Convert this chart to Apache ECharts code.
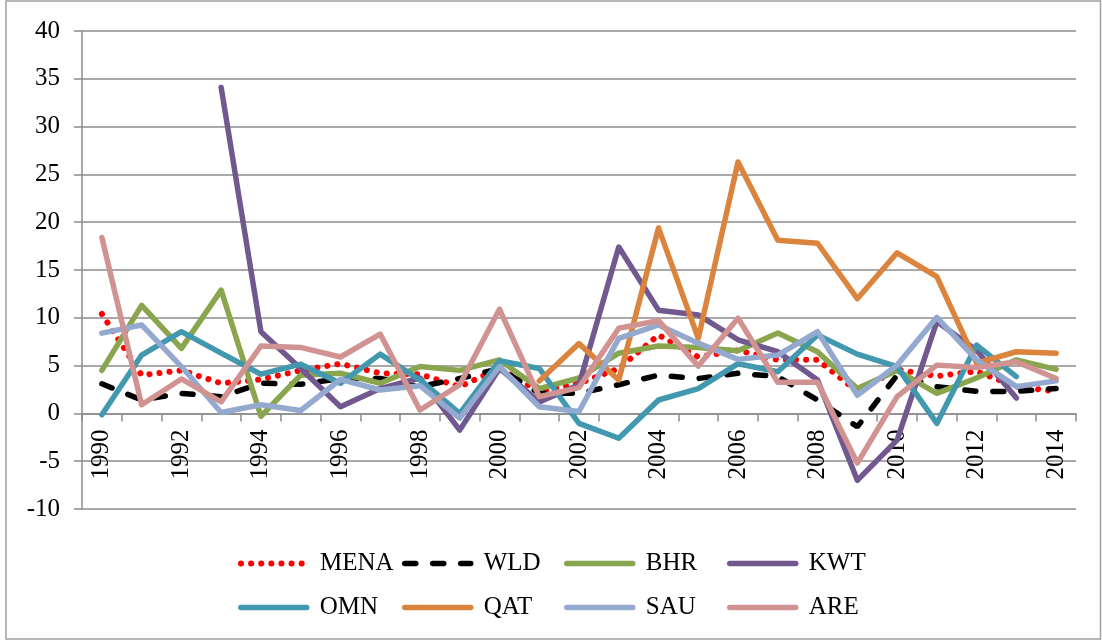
<!DOCTYPE html>
<html>
<head>
<meta charset="utf-8">
<script src="https://cdn.jsdelivr.net/npm/echarts@6/dist/echarts.min.js"></script>
<style>
  html, body { margin: 0; padding: 0; background: #fff; }
  #chart { width: 1102px; height: 642px; }
</style>
</head>
<body>
<div id="chart"></div>
<script>
// categories
const years = ['1990', '1991', '1992', '1993', '1994', '1995', '1996', '1997', '1998', '1999',
  '2000', '2001', '2002', '2003', '2004', '2005', '2006', '2007', '2008', '2009',
  '2010', '2011', '2012', '2013', '2014']

// series values
const mena = [10.4, 4.0, 4.5, 3.15, 3.55, 4.5, 5.2, 4.2, 4.1, 2.8, 4.7, 2.3, 3.15, 4.7, 8.2, 5.9, 6.6, 5.6, 5.6, 2.3, 4.6, 3.9, 4.4, 2.8, 2.3]
const wld = [3.1, 1.4, 2.1, 1.75, 3.15, 3.05, 3.65, 3.65, 2.8, 3.65, 4.7, 2.1, 2.1, 3.0, 4.0, 3.65, 4.2, 3.85, 1.4, -1.4, 4.0, 2.8, 2.3, 2.3, 2.6]
const bhr = [4.5, 11.3, 6.8, 12.9, -0.3, 4.0, 4.2, 3.15, 4.9, 4.5, 5.6, 2.6, 3.7, 6.3, 7.05, 6.9, 6.55, 8.4, 6.45, 2.6, 4.5, 2.1, 3.7, 5.6, 4.6]
const kwt = [null, null, null, 34.1, 8.55, 4.7, 0.7, 2.6, 3.7, -1.75, 4.7, 1.2, 3.0, 17.4, 10.8, 10.3, 7.7, 6.45, 3.5, -7.0, -2.8, 9.6, 6.6, 1.6, null]
const omn = [-0.15, 6.1, 8.55, 6.3, 4.1, 5.15, 3.15, 6.2, 3.5, 0.0, 5.5, 4.7, -1.05, -2.6, 1.4, 2.6, 5.2, 4.35, 8.2, 6.2, 4.9, -1.05, 7.15, 3.85, null]
const qat = [null, null, null, null, null, null, null, null, null, null, null, 3.4, 7.3, 3.5, 19.4, 7.85, 26.3, 18.1, 17.8, 12.0, 16.8, 14.3, 5.25, 6.45, 6.3]
const sau = [8.4, 9.25, 4.9, 0.1, 0.9, 0.3, 3.55, 2.45, 2.9, -0.5, 4.9, 0.7, 0.2, 7.85, 9.25, 7.35, 5.65, 6.1, 8.55, 1.9, 5.05, 10.05, 5.6, 2.8, 3.4]
const are = [18.4, 0.9, 3.6, 1.2, 7.05, 6.9, 5.9, 8.3, 0.35, 3.0, 10.9, 1.75, 2.7, 8.9, 9.7, 4.95, 9.95, 3.25, 3.25, -5.2, 1.75, 5.05, 4.8, 5.4, 3.65]

const names = ['MENA', 'WLD', 'BHR', 'KWT', 'OMN', 'QAT', 'SAU', 'ARE']
const values = [mena, wld, bhr, kwt, omn, qat, sau, are]
const colors = ['#ff0000', '#000000', '#89a54e', '#71588f', '#4198af', '#db843d', '#93a9cf', '#d19392']

const font = "'Liberation Serif', 'Times New Roman', serif"
const gray = '#8c8c8c'

const myChart = echarts.init(document.getElementById('chart'))

const series = names.map((name, i) => {
  let lineStyle = { color: colors[i], width: 5.5, cap: 'round', join: 'round' }
  if (name === 'MENA') {
    lineStyle = { color: colors[i], width: 6, type: [0.1, 10], cap: 'round' }
  } else if (name === 'WLD') {
    lineStyle = { color: colors[i], width: 5.5, type: [11, 17], cap: 'round' }
  }
  return {
    name: name,
    type: 'line',
    data: values[i],
    showSymbol: false,
    symbol: 'none',
    connectNulls: false,
    lineStyle: lineStyle,
    itemStyle: { color: colors[i] },
    emphasis: { disabled: true },
  }
})

// one legend per item so they sit on a fixed 4x2 grid
const legendLeft = [238, 402, 564, 727]
const legendTop = [551, 595]
const legends = names.map((name, i) => ({
  data: [name],
  left: legendLeft[i % 4],
  top: legendTop[Math.floor(i / 4)],
  padding: 0,
  itemWidth: 66,
  itemHeight: 14,
  itemStyle: { opacity: 0 },
  lineStyle: { width: name === 'MENA' ? 6 : 5.5 },
  textStyle: {
    fontFamily: font,
    fontSize: 25,
    color: '#000',
    padding: [0, 0, 0, 8],
  },
}))

const option = {
  animation: false,
  color: colors,
  textStyle: { fontFamily: font },
  graphic: [
    {
      type: 'rect',
      shape: { x: 6, y: 1, width: 1094.5, height: 638 },
      style: { fill: 'none', stroke: '#a0a0a0', lineWidth: 1.5 },
      silent: true,
    },
  ],
  grid: {
    left: 82,
    right: 26,
    top: 31,
    bottom: 133,
  },
  legend: legends,
  xAxis: {
    type: 'category',
    data: years,
    boundaryGap: true,
    // sits at y = 0: grid height 478 for 50 units, zero is 10 units above the bottom
    offset: -95.6,
    axisLine: {
      show: true,
      onZero: false,
      lineStyle: { color: gray, width: 1.5 },
    },
    axisTick: {
      show: true,
      interval: 0,
      alignWithLabel: false,
      length: 8,
      lineStyle: { color: gray, width: 1.5 },
    },
    axisLabel: {
      interval: 1,
      rotate: 90,
      margin: 16,
      fontFamily: font,
      fontSize: 25,
      color: '#000',
    },
    splitLine: { show: false },
  },
  yAxis: {
    type: 'value',
    min: -10,
    max: 40,
    interval: 5,
    axisLine: {
      show: true,
      lineStyle: { color: gray, width: 1.5 },
    },
    axisTick: {
      show: true,
      length: 8,
      lineStyle: { color: gray, width: 1.5 },
    },
    axisLabel: {
      margin: 22,
      fontFamily: font,
      fontSize: 25,
      color: '#000',
    },
    splitLine: {
      show: true,
      lineStyle: { color: gray, width: 1.5 },
    },
  },
  series: series,
}

myChart.setOption(option)
</script>
</body>
</html>
